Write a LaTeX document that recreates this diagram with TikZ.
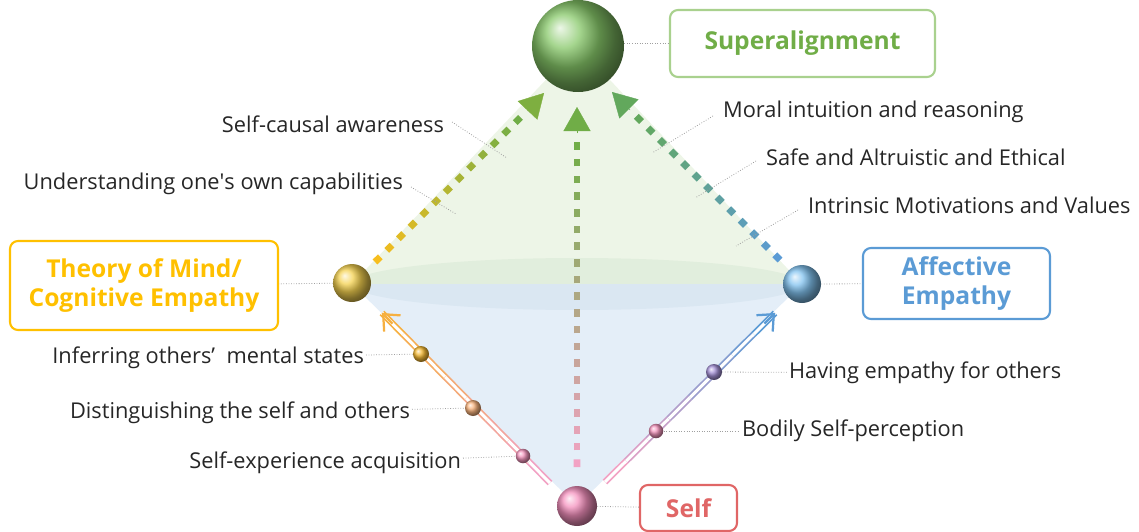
\documentclass[tikz,border=0pt]{standalone}
\usepackage{fontspec}
\setmainfont{Open Sans}
\usetikzlibrary{arrows.meta,calc}

\definecolor{grn}{HTML}{70AD47}
\definecolor{grnbox}{HTML}{A9D18E}
\definecolor{yel}{HTML}{FFC000}
\definecolor{yeldot}{HTML}{F7BE1E}
\definecolor{blu}{HTML}{5B9BD5}
\definecolor{selfred}{HTML}{E06666}
\definecolor{pnk}{HTML}{F2A2C4}
\definecolor{orn}{HTML}{F6B041}
\definecolor{teal}{HTML}{62A85C}
\definecolor{txt}{HTML}{262626}
\definecolor{upfill}{HTML}{EDF5E7}
\definecolor{lowfill}{HTML}{E4EEF8}
\definecolor{ellup}{HTML}{E1EEDD}
\definecolor{elllow}{HTML}{DAE7F2}

% square dots along a line, colour running from #4 to #5
\newcommand\dotrun[5]{%
  \pgfmathtruncatemacro\kmax{#3-1}
  \foreach \k in {0,...,\kmax} {
    \pgfmathsetmacro\ta{\k/#3}
    \pgfmathsetmacro\tb{(\k+0.45)/#3}
    \pgfmathtruncatemacro\pc{100-100*\k/(#3-1)}
    \draw[dotline,#4!\pc!#5] ($(#1)!\ta!(#2)$) -- ($(#1)!\tb!(#2)$);
  }}
% double rail with open head, colour running from #4 to #5
\newcommand\railrun[5]{%
  \pgfmathtruncatemacro\kmax{#3-1}
  \foreach \k in {0,...,\kmax} {
    \pgfmathsetmacro\ta{\k/#3}
    \pgfmathsetmacro\tb{(\k+1)/#3}
    \pgfmathtruncatemacro\pc{100-100*\k/(#3-1)}
    \draw[rail,#4!\pc!#5] ($(#1)!\ta!(#2)$) -- ($(#1)!\tb!(#2)$);
  }
  \draw[barb,#5] ($(#2)!3mm!(#1)$) -- (#2);}

\tikzset{
  ball/.style={circle,shading=ball,inner sep=0pt},
  dotline/.style={line width=1.35mm},
  rail/.style={line width=0.35mm,double=white,double distance=0.6mm},
  barb/.style={line width=0.45mm,-{Straight Barb[length=2.6mm,width=4.6mm]}},
  head/.style={line width=0.2pt,-{Triangle[length=4.8mm,width=5.4mm]}},
  leader/.style={densely dotted,gray!75,line width=0.45pt},
  lbl/.style={font=\fontsize{12.4}{14}\selectfont,text=txt,inner sep=1pt},
  titlebox/.style={draw,rounded corners=1.6mm,line width=1.2pt,align=center,
    font=\bfseries\fontsize{14}{17}\selectfont,inner sep=0pt},
}

\begin{document}
\begin{tikzpicture}[x=0.2mm,y=-0.2mm]
\useasboundingbox (0,0) rectangle (1139,532);

% backdrop
\fill[upfill] (578,46) -- (352,284) -- (802,284) -- cycle;
\fill[lowfill] (352,284) -- (802,284) -- (577,506) -- cycle;
\fill[ellup] (352,284) arc[start angle=180,end angle=360,x radius=225,y radius=26] -- cycle;
\fill[elllow] (352,284) arc[start angle=180,end angle=0,x radius=225,y radius=26] -- cycle;

% dotted arrows to the top
\coordinate (ya) at (375,262);
\coordinate (yb) at (527,111);
\coordinate (yt) at (544,93);
\coordinate (ca) at (577,467);
\coordinate (cb) at (577,133);
\coordinate (ct) at (577,107);
\coordinate (ba) at (780,260);
\coordinate (bb) at (630,110);
\coordinate (bt) at (612,92);
\dotrun{ya}{yb}{13}{yeldot}{grn}
\dotrun{ca}{cb}{20}{pnk}{grn}
\dotrun{ba}{bb}{13}{blu}{teal}
\draw[head,grn!90!yel,fill=grn!90!yel] (yb) -- (yt);
\draw[head,grn,fill=grn] (cb) -- (ct);
\draw[head,teal,fill=teal] (bb) -- (bt);

% double rails from the self
\coordinate (la) at (550,483);
\coordinate (lt) at (382,313);
\coordinate (ra) at (605,482);
\coordinate (rt) at (775,313);
\railrun{la}{lt}{8}{pnk}{orn}
\railrun{ra}{rt}{8}{pnk}{blu}

% spheres
\node[ball,ball color={rgb,255:red,135;green,200;blue,105},minimum size=18.4mm] (top) at (578,46) {};
\node[ball,ball color={rgb,255:red,245;green,210;blue,80},minimum size=7.6mm] (tom) at (352,283) {};
\node[ball,ball color={rgb,255:red,130;green,195;blue,240},minimum size=7.6mm] (aff) at (802,284) {};
\node[ball,ball color={rgb,255:red,245;green,145;blue,190},minimum size=8mm] (self) at (577,506) {};
\node[ball,ball color={rgb,255:red,245;green,185;blue,50},minimum size=3.2mm] (s1) at (421,354) {};
\node[ball,ball color={rgb,255:red,250;green,180;blue,125},minimum size=3.2mm] (s2) at (473,408) {};
\node[ball,ball color={rgb,255:red,245;green,150;blue,190},minimum size=2.9mm] (s3) at (523,456) {};
\node[ball,ball color={rgb,255:red,165;green,145;blue,215},minimum size=3.2mm] (s4) at (714,372) {};
\node[ball,ball color={rgb,255:red,245;green,150;blue,190},minimum size=2.9mm] (s5) at (656,431) {};

% title boxes
\node[titlebox,grnbox,text=grn,minimum width=53mm,minimum height=13.4mm] (supbox) at (802.5,43.5) {Superalignment};
\node[titlebox,yel,minimum width=53.6mm,minimum height=17.8mm] (tombox) at (144,285.5) {Theory of Mind/\\Cognitive Empathy};
\node[titlebox,blu,minimum width=37.4mm,minimum height=14.2mm] (affbox) at (956.5,283.5) {Affective\\Empathy};
\node[titlebox,selfred,minimum width=19.4mm,minimum height=9.2mm] (selfbox) at (688.5,508) {Self};
\draw[leader] (top.east |- supbox.west) -- (supbox.west);
\draw[leader] (tom) -- (tombox);
\draw[leader] (aff) -- (affbox);
\draw[leader] (self) -- (selfbox);

% labels, left side
\node[lbl,anchor=east] (l1) at (446,124) {Self-causal awareness};
\node[lbl,anchor=east] (l2) at (405,184) {Understanding one\textquotesingle s own capabilities};
\node[lbl,anchor=east] (l3) at (366,358) {Inferring others’~ mental states};
\node[lbl,anchor=east] (l4) at (412,413) {Distinguishing the self and others};
\node[lbl,anchor=east] (l5) at (463,463) {Self-experience acquisition};
\coordinate (e1) at (507,158);
\coordinate (e2) at (456,214);
\draw[leader] (l1.east) ++(6,-2) -- (e1);
\draw[leader] (l2.east) ++(6,3) -- (e2);
\draw[leader] (l3) -- (s1);
\draw[leader] (l4) -- (s2);
\draw[leader] (l5) -- (s3);

% labels, right side
\node[lbl,anchor=west] (l6) at (721,112) {Moral intuition and reasoning};
\node[lbl,anchor=west] (l7) at (764,157) {Safe and Altruistic and Ethical};
\node[lbl,anchor=west] (l8) at (806,205) {Intrinsic Motivations and Values};
\node[lbl,anchor=west] (l9) at (787,373) {Having empathy for others};
\node[lbl,anchor=west] (l10) at (740,431) {Bodily Self-perception};
\coordinate (e6) at (652,153);
\coordinate (e7) at (695,198);
\coordinate (e8) at (736,246);
\draw[leader] (l6.west) ++(-8,4) -- (e6);
\draw[leader] (l7.west) ++(-8,4) -- (e7);
\draw[leader] (l8.west) ++(-8,5) -- (e8);
\draw[leader] (s4) -- (l9);
\draw[leader] (s5) -- (l10);
\end{tikzpicture}
\end{document}
